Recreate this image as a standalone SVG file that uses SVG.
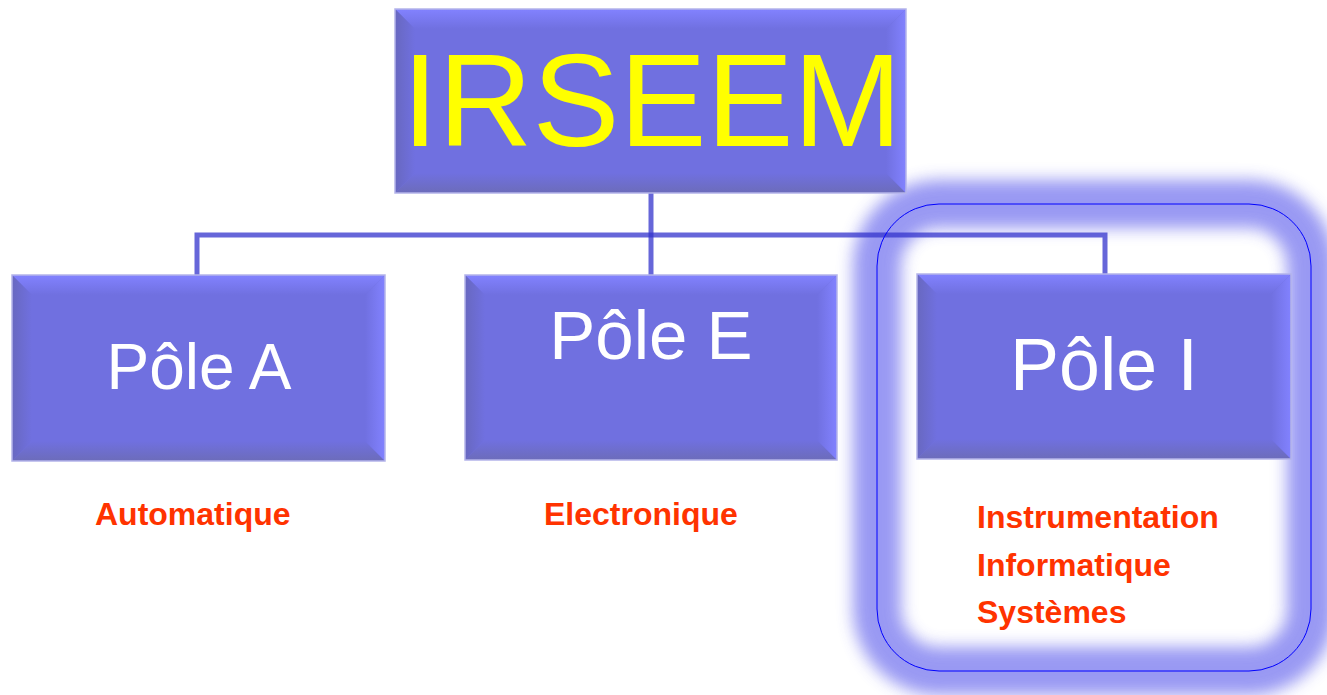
<svg xmlns="http://www.w3.org/2000/svg" width="1327" height="695" viewBox="0 0 1327 695">
<style>
.face{fill:#7070e0}
.edge{fill:none;stroke:#b4b4ea;stroke-width:1.5}
.bt{fill:url(#gT)}
.bl{fill:url(#gL)}
.bb{fill:url(#gB)}
.br{fill:url(#gR)}
.pole{font-family:"Liberation Sans",Arial,sans-serif;fill:#ffffff;text-anchor:middle}
.lbl{font-family:"Liberation Sans",Arial,sans-serif;font-weight:bold;font-size:32px;fill:#ff3300}
.conn{fill:none;stroke:#3333cc;stroke-opacity:0.75;stroke-width:5}
</style>
<defs>
<linearGradient id="gT" x1="0" y1="0" x2="0" y2="1"><stop offset="0" stop-color="#8282ff"/><stop offset="1" stop-color="#7070e0"/></linearGradient>
<linearGradient id="gL" x1="0" y1="0" x2="1" y2="0"><stop offset="0" stop-color="#6868c0"/><stop offset="1" stop-color="#7070e0"/></linearGradient>
<linearGradient id="gB" x1="0" y1="1" x2="0" y2="0"><stop offset="0" stop-color="#6c6cba"/><stop offset="1" stop-color="#7070e0"/></linearGradient>
<linearGradient id="gR" x1="1" y1="0" x2="0" y2="0"><stop offset="0" stop-color="#8282ff"/><stop offset="1" stop-color="#7070e0"/></linearGradient>
<filter id="blur" x="-20%" y="-20%" width="140%" height="140%"><feGaussianBlur stdDeviation="8"/></filter>
</defs>

<g id="highlight">
<rect x="877" y="204" width="434" height="467" rx="62" ry="62" fill="none" stroke="#8e8ef2" stroke-width="48" filter="url(#blur)" opacity="0.9"/>
</g>

<g id="connectors">
<path class="conn" d="M197,275 V235 H1105 V275"/>
<path class="conn" d="M651,193 V275"/>
</g>

<g id="highlight-outline">
<rect x="877" y="204" width="434" height="467" rx="62" ry="62" fill="none" stroke="#0000ff" stroke-width="1"/>
</g>

<g id="irseem">
<rect class="face" x="395" y="9" width="511" height="184"/>
<polygon class="bt" points="395,9 906,9 886,29 415,29"/>
<polygon class="bl" points="395,9 415,29 415,173 395,193"/>
<polygon class="bb" points="395,193 415,173 886,173 906,193"/>
<polygon class="br" points="906,9 906,193 886,173 886,29"/>
<rect class="edge" x="395" y="9" width="511" height="184"/>
<text x="652" y="146" font-family="'Liberation Sans',Arial,sans-serif" font-size="132" fill="#ffff00" text-anchor="middle" textLength="500" lengthAdjust="spacingAndGlyphs">IRSEEM</text>
</g>

<g id="pole-a">
<rect class="face" x="12" y="275" width="373" height="186"/>
<polygon class="bt" points="12,275 385,275 365,295 32,295"/>
<polygon class="bl" points="12,275 32,295 32,441 12,461"/>
<polygon class="bb" points="12,461 32,441 365,441 385,461"/>
<polygon class="br" points="385,275 385,461 365,441 365,295"/>
<rect class="edge" x="12" y="275" width="373" height="186"/>
<text class="pole" x="199" y="389" font-size="64">Pôle A</text>
</g>

<g id="pole-e">
<rect class="face" x="465" y="275" width="372" height="185"/>
<polygon class="bt" points="465,275 837,275 817,295 485,295"/>
<polygon class="bl" points="465,275 485,295 485,440 465,460"/>
<polygon class="bb" points="465,460 485,440 817,440 837,460"/>
<polygon class="br" points="837,275 837,460 817,440 817,295"/>
<rect class="edge" x="465" y="275" width="372" height="185"/>
<text class="pole" x="651" y="359" font-size="69">Pôle E</text>
</g>

<g id="pole-i">
<rect class="face" x="917" y="274" width="374" height="185"/>
<polygon class="bt" points="917,274 1291,274 1271,294 937,294"/>
<polygon class="bl" points="917,274 937,294 937,439 917,459"/>
<polygon class="bb" points="917,459 937,439 1271,439 1291,459"/>
<polygon class="br" points="1291,274 1291,459 1271,439 1271,294"/>
<rect class="edge" x="917" y="274" width="374" height="185"/>
<text class="pole" x="1104" y="390" font-size="73.5">Pôle I</text>
</g>

<g id="label-a">
<text class="lbl" x="95" y="525">Automatique</text>
</g>
<g id="label-e">
<text class="lbl" x="544" y="525">Electronique</text>
</g>
<g id="label-i">
<text class="lbl" x="977" y="528">Instrumentation</text>
<text class="lbl" x="977" y="576">Informatique</text>
<text class="lbl" x="977" y="623">Systèmes</text>
</g>
</svg>
